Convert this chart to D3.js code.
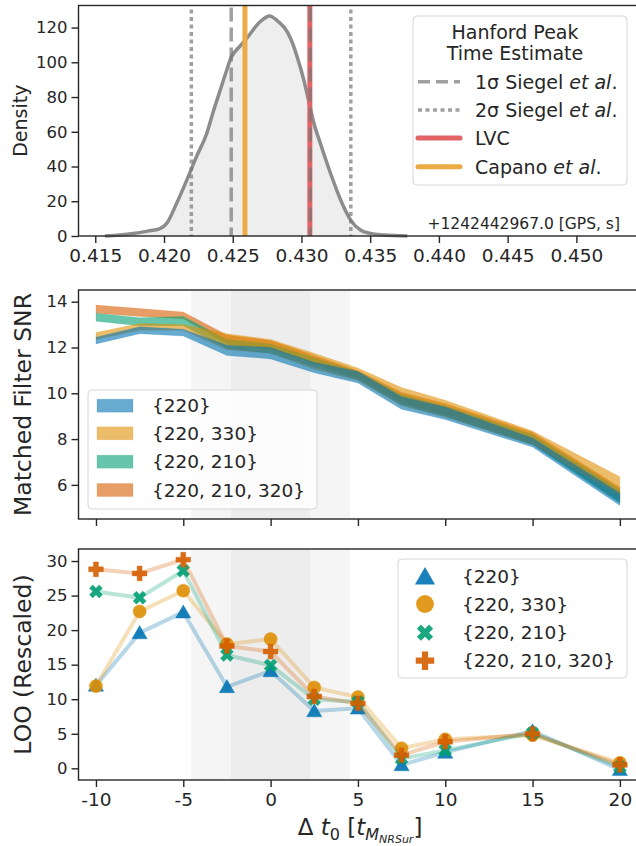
<!DOCTYPE html>
<html>
<head>
<meta charset="utf-8">
<script src="https://cdn.jsdelivr.net/npm/d3@7"></script>
<style>
  body { margin: 0; background: #fff; }
  svg { display: block; font-family: "DejaVu Sans", sans-serif; }
</style>
</head>
<body>
<div id="chart"></div>
<script>
// Top panel: Hanford peak time density (KDE)
const kdeTime = [0.4157, 0.4168, 0.41775, 0.4188, 0.4197, 0.4202, 0.42092, 0.42165, 0.42238, 0.42311,
  0.42360, 0.42409, 0.42450, 0.42490, 0.42550, 0.42604, 0.42701, 0.42769, 0.42830, 0.42896,
  0.42935, 0.42969, 0.43017, 0.43055, 0.43091, 0.43139, 0.43212, 0.43286, 0.43359, 0.43432,
  0.43500, 0.43600, 0.43770];
const kdeDensity = [0, 0.6, 1.4, 2.8, 4.3, 7.3, 18.8, 32, 46, 59,
  72, 84, 94, 103, 109, 114, 123.5, 126.7, 123.5, 117.7,
  111, 103, 89.8, 77, 64.8, 53, 36, 20.6, 9, 3.3,
  1.5, 0.6, 0];
const sigma1Times = [0.42489, 0.43064];
const sigma2Times = [0.42199, 0.43359];
const lvcTime = 0.43061;
const capanoTime = 0.42589;
const timeTicks = [0.415, 0.420, 0.425, 0.430, 0.435, 0.440, 0.445, 0.450];
const densityTicks = [0, 20, 40, 60, 80, 100, 120];

// Shared x (start time offset) for the two lower panels
const dt = [-10, -7.5, -5, -2.5, 0, 2.5, 5, 7.5, 10, 15, 20];
const dtTicks = [-10, -5, 0, 5, 10, 15, 20];
const shade1Sigma = [-2.27, 2.27];
const shade2Sigma = [-4.55, 4.55];

const modelNames = ["{220}", "{220, 330}", "{220, 210}", "{220, 210, 320}"];
const modelColors = ["#0173b2", "#de8f05", "#029e73", "#d55e00"];

// Middle panel: matched filter SNR bands (lower / upper)
const snrLow = [
  [12.15, 12.6, 12.5, 11.65, 11.5, 10.9, 10.45, 9.3, 8.85, 7.65, 5.1],
  [12.35, 12.75, 12.75, 11.9, 11.75, 11.05, 10.55, 9.45, 8.95, 7.75, 5.55],
  [13.15, 12.95, 12.95, 11.95, 11.75, 11.15, 10.6, 9.5, 9.0, 7.75, 5.2],
  [13.5, 13.35, 13.25, 12.15, 11.95, 11.3, 10.65, 9.6, 9.05, 7.8, 5.25]
];
const snrHigh = [
  [12.45, 12.9, 12.8, 12.1, 12.0, 11.35, 10.95, 9.85, 9.4, 8.05, 5.65],
  [12.65, 13.05, 13.0, 12.6, 12.35, 11.75, 11.1, 10.25, 9.7, 8.35, 6.35],
  [13.5, 13.3, 13.35, 12.35, 12.15, 11.55, 10.95, 9.95, 9.45, 8.2, 5.8],
  [13.85, 13.7, 13.55, 12.55, 12.3, 11.65, 11.0, 10.05, 9.55, 8.3, 5.9]
];
const snrTicks = [6, 8, 10, 12, 14];

// Bottom panel: LOO (rescaled)
const looValues = [
  [12.0, 19.6, 22.6, 11.8, 14.1, 8.3, 8.7, 0.5, 2.3, 5.4, -0.2],
  [11.9, 22.7, 25.7, 18.0, 18.7, 11.7, 10.3, 2.9, 4.2, 4.8, 0.8],
  [25.6, 24.7, 28.6, 16.4, 14.9, 10.0, 9.6, 1.4, 2.6, 5.1, 0.2],
  [28.8, 28.2, 30.2, 17.7, 16.9, 10.4, 9.4, 1.9, 3.85, 5.0, 0.5]
];
const looTicks = [0, 5, 10, 15, 20, 25, 30];

const width = 636, height = 846;
const left = 78.5, right = 637;
const ink = "#262626";

const svg = d3.select("#chart").append("svg")
  .attr("width", width).attr("height", height);

function frame(top, bottom) {
  svg.append("rect")
    .attr("x", left).attr("y", top)
    .attr("width", right - left).attr("height", bottom - top)
    .attr("fill", "none").attr("stroke", ink).attr("stroke-width", 1.4);
}

function yAxis(scale, ticks, size) {
  const g = svg.append("g").attr("transform", `translate(${left},0)`)
    .call(d3.axisLeft(scale).tickValues(ticks).tickSize(7).tickPadding(4).tickSizeOuter(0));
  g.select(".domain").remove();
  g.selectAll("line").attr("stroke", ink).attr("stroke-width", 1.4);
  g.selectAll("text").attr("fill", ink).attr("font-size", size).attr("font-family", "DejaVu Sans");
}

function xAxis(scale, ticks, y, fmt, showLabels) {
  const g = svg.append("g").attr("transform", `translate(0,${y})`)
    .call(d3.axisBottom(scale).tickValues(ticks).tickSize(7).tickPadding(6).tickSizeOuter(0).tickFormat(fmt));
  g.select(".domain").remove();
  g.selectAll("line").attr("stroke", ink).attr("stroke-width", 1.4);
  g.selectAll("text").attr("fill", ink).attr("font-size", 18.5).attr("font-family", "DejaVu Sans");
  if (!showLabels) g.selectAll("text").remove();
}

function yLabel(text, x, y, size) {
  svg.append("text")
    .attr("transform", `translate(${x},${y}) rotate(-90)`)
    .attr("text-anchor", "middle").attr("dominant-baseline", "central")
    .attr("font-size", size).attr("fill", ink).text(text);
}

function legendBox(x, y, w, h) {
  svg.append("rect").attr("x", x).attr("y", y).attr("width", w).attr("height", h)
    .attr("rx", 4).attr("fill", "#fff").attr("fill-opacity", 0.8)
    .attr("stroke", "#d6d6d6").attr("stroke-width", 1);
}

// plain hyphen for negative tick labels, like the reference
const intFmt = d => String(d);

// ---------------- Top panel ----------------
const topTop = 5.5, topBottom = 236;
const xTime = d3.scaleLinear().domain([0.41378, 0.45441]).range([left, right]);
const yDensity = d3.scaleLinear().domain([0, 132.7]).range([topBottom, topTop]);

const kde = kdeTime.map((t, i) => [t, kdeDensity[i]]);
svg.append("path").datum(kde)
  .attr("d", d3.area().x(d => xTime(d[0])).y0(yDensity(0)).y1(d => yDensity(d[1])).curve(d3.curveMonotoneX))
  .attr("fill", "#eeeeee");
svg.append("path").datum(kde)
  .attr("d", d3.line().x(d => xTime(d[0])).y(d => yDensity(d[1])).curve(d3.curveMonotoneX))
  .attr("fill", "none").attr("stroke", "#8c8c8c").attr("stroke-width", 3.5);

svg.append("line")
  .attr("x1", xTime(lvcTime)).attr("x2", xTime(lvcTime)).attr("y1", topTop).attr("y2", topBottom)
  .attr("stroke", "#e36466").attr("stroke-width", 5);
svg.append("line")
  .attr("x1", xTime(capanoTime)).attr("x2", xTime(capanoTime)).attr("y1", topTop).attr("y2", topBottom)
  .attr("stroke", "#ecab45").attr("stroke-width", 5);

sigma1Times.forEach(t => {
  svg.append("line")
    .attr("x1", xTime(t)).attr("x2", xTime(t)).attr("y1", topTop + 2).attr("y2", topBottom)
    .attr("stroke", "#777").attr("stroke-opacity", 0.7).attr("stroke-width", 3.5)
    .attr("stroke-dasharray", "14,6");
});
sigma2Times.forEach(t => {
  svg.append("line")
    .attr("x1", xTime(t)).attr("x2", xTime(t)).attr("y1", topTop + 4).attr("y2", topBottom)
    .attr("stroke", "#777").attr("stroke-opacity", 0.7).attr("stroke-width", 3.5)
    .attr("stroke-dasharray", "4,3.5");
});

svg.append("text").attr("x", 620).attr("y", 229).attr("text-anchor", "end")
  .attr("font-size", 15.5).attr("fill", ink).text("+1242442967.0 [GPS, s]");

frame(topTop, topBottom);
yAxis(yDensity, densityTicks, 16.5);
xAxis(xTime, timeTicks, topBottom, d3.format(".3f"), true);
yLabel("Density", 20, (topTop + topBottom) / 2, 19);

// legend (top)
legendBox(413, 16, 214, 169);
svg.append("text").attr("x", 515).attr("y", 32).attr("text-anchor", "middle")
  .attr("dominant-baseline", "central").attr("font-size", 19).attr("fill", ink).text("Hanford Peak");
svg.append("text").attr("x", 515).attr("y", 53).attr("text-anchor", "middle")
  .attr("dominant-baseline", "central").attr("font-size", 19).attr("fill", ink).text("Time Estimate");

const topLegend = [
  { y: 81.7, color: "#777", op: 0.7, dash: "12,6", w: 3.5, parts: [["1σ Siegel ", false], ["et al", true], [".", false]] },
  { y: 110, color: "#777", op: 0.7, dash: "4,3.5", w: 3.5, parts: [["2σ Siegel ", false], ["et al", true], [".", false]] },
  { y: 138, color: "#e36466", op: 1, dash: null, w: 5, parts: [["LVC", false]] },
  { y: 166.7, color: "#ecab45", op: 1, dash: null, w: 5, parts: [["Capano ", false], ["et al", true], [".", false]] }
];
topLegend.forEach(e => {
  svg.append("line").attr("x1", 418).attr("x2", 460).attr("y1", e.y).attr("y2", e.y)
    .attr("stroke", e.color).attr("stroke-opacity", e.op).attr("stroke-width", e.w)
    .attr("stroke-linecap", e.dash ? "butt" : "round")
    .attr("stroke-dasharray", e.dash);
  const t = svg.append("text").attr("x", 475).attr("y", e.y)
    .attr("dominant-baseline", "central").attr("font-size", 19).attr("fill", ink);
  e.parts.forEach(p => t.append("tspan").attr("font-style", p[1] ? "italic" : "normal").text(p[0]));
});

// ---------------- Middle panel ----------------
const midTop = 290, midBottom = 519;
const xDt = d3.scaleLinear().domain([-11.0, 20.98]).range([left, right]);
const ySnr = d3.scaleLinear().domain([4.51, 14.51]).range([midBottom, midTop]);

function shades(top, bottom) {
  svg.append("rect").attr("x", xDt(shade2Sigma[0])).attr("y", top)
    .attr("width", xDt(shade2Sigma[1]) - xDt(shade2Sigma[0])).attr("height", bottom - top)
    .attr("fill", "#f5f5f5");
  svg.append("rect").attr("x", xDt(shade1Sigma[0])).attr("y", top)
    .attr("width", xDt(shade1Sigma[1]) - xDt(shade1Sigma[0])).attr("height", bottom - top)
    .attr("fill", "#ededed");
}
shades(midTop, midBottom);

const bandOrder = [3, 2, 1, 0];
bandOrder.forEach(m => {
  const rows = dt.map((t, i) => ({ t, lo: snrLow[m][i], hi: snrHigh[m][i] }));
  svg.append("path").datum(rows)
    .attr("d", d3.area().x(d => xDt(d.t)).y0(d => ySnr(d.lo)).y1(d => ySnr(d.hi)))
    .attr("fill", modelColors[m]).attr("fill-opacity", 0.6)
    .attr("stroke", modelColors[m]).attr("stroke-opacity", 0.15).attr("stroke-width", 1);
});

frame(midTop, midBottom);
yAxis(ySnr, snrTicks, 16.5);
xAxis(xDt, dtTicks, midBottom, intFmt, false);
yLabel("Matched Filter SNR", 22.5, (midTop + midBottom) / 2, 23.5);

legendBox(88, 390, 229, 119);
[405.7, 433.3, 461.7, 490].forEach((y, m) => {
  svg.append("rect").attr("x", 97).attr("y", y - 6.5).attr("width", 36).attr("height", 13)
    .attr("fill", modelColors[m]).attr("fill-opacity", 0.6)
    .attr("stroke", modelColors[m]).attr("stroke-opacity", 0.15);
  svg.append("text").attr("x", 152).attr("y", y).attr("dominant-baseline", "central")
    .attr("font-size", 18.5).attr("fill", ink).text(modelNames[m]);
});

// ---------------- Bottom panel ----------------
const botTop = 549, botBottom = 780;
const yLoo = d3.scaleLinear().domain([-1.69, 31.74]).range([botBottom, botTop]);
shades(botTop, botBottom);

const symbolTypes = [d3.symbolTriangle, d3.symbolCircle, d3.symbolCross, d3.symbolCross];
const symbolRotate = [0, 0, 45, 0];
const symbolSizes = [100, 135, 105, 120];
const legendSizes = [175, 250, 165, 190];

modelNames.forEach((name, m) => {
  const pts = dt.map((t, i) => [t, looValues[m][i]]);
  svg.append("path").datum(pts)
    .attr("d", d3.line().x(d => xDt(d[0])).y(d => yLoo(d[1])))
    .attr("fill", "none").attr("stroke", modelColors[m]).attr("stroke-opacity", 0.28)
    .attr("stroke-width", 4).attr("stroke-linejoin", "round");
  svg.append("g").selectAll("path").data(pts).join("path")
    .attr("transform", d => `translate(${xDt(d[0])},${yLoo(d[1]) + (m === 0 ? 1.5 : 0)}) rotate(${symbolRotate[m]})`)
    .attr("d", d3.symbol().type(symbolTypes[m]).size(symbolSizes[m]))
    .attr("fill", modelColors[m]).attr("fill-opacity", 0.9)
    .attr("stroke", modelColors[m]).attr("stroke-opacity", 0.5).attr("stroke-width", 0.8);
});

frame(botTop, botBottom);
yAxis(yLoo, looTicks, 16.5);
xAxis(xDt, dtTicks, botBottom, intFmt, true);
yLabel("LOO (Rescaled)", 23, (botTop + botBottom) / 2, 23.5);

legendBox(398, 559, 229, 119);
[576.7, 604, 632.7, 660.7].forEach((y, m) => {
  svg.append("path")
    .attr("transform", `translate(425,${y + (m === 0 ? 2 : 0)}) rotate(${symbolRotate[m]})`)
    .attr("d", d3.symbol().type(symbolTypes[m]).size(legendSizes[m]))
    .attr("fill", modelColors[m]).attr("fill-opacity", 0.9);
  svg.append("text").attr("x", 462).attr("y", y).attr("dominant-baseline", "central")
    .attr("font-size", 18.5).attr("fill", ink).text(modelNames[m]);
});

// x label with sub/subscripts
const xl = svg.append("text").attr("x", 360).attr("y", 835).attr("text-anchor", "middle")
  .attr("font-size", 23).attr("fill", ink);
xl.append("tspan").text("Δ ");
xl.append("tspan").attr("font-style", "italic").text("t");
xl.append("tspan").attr("font-size", 16).attr("dy", 5).text("0");
xl.append("tspan").attr("dy", -5).text(" [");
xl.append("tspan").attr("font-style", "italic").text("t");
xl.append("tspan").attr("font-style", "italic").attr("font-size", 16).attr("dy", 5).text("M");
xl.append("tspan").attr("font-style", "italic").attr("font-size", 11).attr("dy", 3).text("NRSur");
xl.append("tspan").attr("dy", -8).text("]");
</script>
</body>
</html>
